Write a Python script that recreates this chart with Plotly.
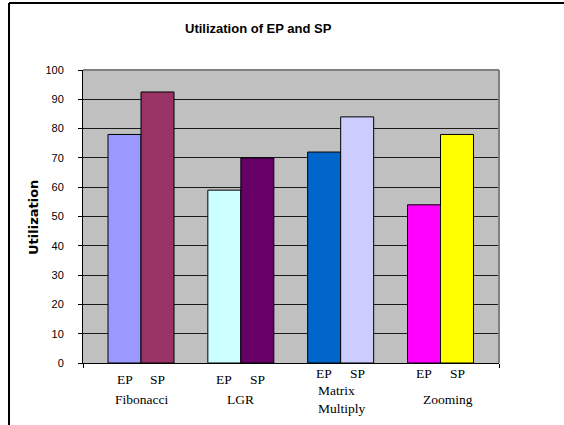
import plotly.graph_objects as go

# Benchmarks and utilization (%) of the EP and SP units
categories = ["Fibonacci", "LGR", "Matrix Multiply", "Zooming"]
category_labels = ["Fibonacci", "LGR", "Matrix<br>Multiply", "Zooming"]
ep_values = [78, 59, 72, 54]
sp_values = [92.5, 70, 84, 78]
ep_colors = ["#9999FF", "#CCFFFF", "#0066CC", "#FF00FF"]
sp_colors = ["#993366", "#660066", "#CCCCFF", "#FFFF00"]
y_ticks = [0, 10, 20, 30, 40, 50, 60, 70, 80, 90, 100]

W, H = 564, 425
L, R, T, B = 83, 65, 70, 62
plot_w = W - L - R
plot_h = H - T - B

x_lo, x_hi = -0.581, 3.586
unit_px = plot_w / (x_hi - x_lo)

fig = go.Figure()
fig.add_trace(go.Bar(x=categories, y=ep_values, name="EP",
                     marker=dict(color=ep_colors, line=dict(color="#000000", width=1))))
fig.add_trace(go.Bar(x=categories, y=sp_values, name="SP",
                     marker=dict(color=sp_colors, line=dict(color="#000000", width=1))))

serif = "Liberation Serif, Times New Roman, serif"
narrow = "Liberation Sans Narrow, Arial Narrow, Liberation Sans, Arial, sans-serif"


def py(pix):
    # pixel row -> paper y
    return (H - B - pix) / plot_h


annotations = []
ep_rows = [379, 379, 374, 374]
name_rows = [399, 399, 400, 399]
name_shift = [0, 0, 1, 7]
bar_off = 16.5
for i, cat in enumerate(categories):
    annotations.append(dict(x=cat, y=py(ep_rows[i]), xref="x", yref="paper", text="EP",
                            xshift=-bar_off, showarrow=False, yanchor="middle",
                            xanchor="center",
                            font=dict(family=serif, size=13.5, color="#000000")))
    annotations.append(dict(x=cat, y=py(ep_rows[i]), xref="x", yref="paper", text="SP",
                            xshift=bar_off, showarrow=False, yanchor="middle",
                            xanchor="center",
                            font=dict(family=serif, size=13.5, color="#000000")))
    annotations.append(dict(x=cat, y=py(name_rows[i]), xref="x", yref="paper",
                            text=category_labels[i], xshift=name_shift[i], align="left",
                            showarrow=False, yanchor="middle", xanchor="center",
                            font=dict(family=serif, size=13.5, color="#000000")))

# Axis title
annotations.append(dict(x=(33 - L) / plot_w, y=py(218), xref="paper", yref="paper",
                        text="<b>Utilization</b>", textangle=-90, showarrow=False,
                        xanchor="center", yanchor="middle",
                        font=dict(family="DejaVu Sans, Verdana, sans-serif", size=13,
                                  color="#000000")))
# Chart title
annotations.append(dict(x=(258 - L) / plot_w, y=py(29), xref="paper", yref="paper",
                        text="<b>Utilization of EP and SP</b>", showarrow=False,
                        xanchor="center", yanchor="middle",
                        font=dict(family=narrow, size=13, color="#000000")))

shapes = [
    # top and right edges of the plot area
    dict(type="line", xref="paper", yref="paper", x0=0, x1=1, y0=1, y1=1,
         line=dict(color="#808080", width=2), layer="above"),
    dict(type="line", xref="paper", yref="paper", x0=1, x1=1, y0=0, y1=1,
         line=dict(color="#808080", width=2), layer="above"),
    # outer chart frame
    dict(type="line", xref="paper", yref="paper", x0=(9 - L) / plot_w, x1=(9 - L) / plot_w,
         y0=py(3), y1=py(440), line=dict(color="#000000", width=2)),
    dict(type="line", xref="paper", yref="paper", x0=(9 - L) / plot_w, x1=(580 - L) / plot_w,
         y0=py(3), y1=py(3), line=dict(color="#000000", width=2)),
]

fig.update_layout(
    width=W, height=H,
    margin=dict(l=L, r=R, t=T, b=B, pad=0),
    paper_bgcolor="#FFFFFF",
    plot_bgcolor="#C0C0C0",
    barmode="group",
    bargap=1 - 66 / unit_px,
    bargroupgap=0,
    showlegend=False,
    annotations=annotations,
    shapes=shapes,
    xaxis=dict(
        type="category",
        range=[x_lo, x_hi],
        showgrid=False,
        showline=True, linecolor="#000000", linewidth=1,
        ticks="outside", ticklen=4, tickcolor="#000000",
        tickvals=[x_lo, x_hi], ticktext=["", ""],
        showticklabels=False,
        zeroline=False,
    ),
    yaxis=dict(
        range=[0, 100],
        tickvals=y_ticks,
        showgrid=True, gridcolor="#1a1a1a", gridwidth=1,
        showline=True, linecolor="#000000", linewidth=1,
        ticks="outside", ticklen=4, tickcolor="#000000",
        ticklabelstandoff=12,
        tickfont=dict(family=narrow, size=11, color="#000000"),
        zeroline=False,
    ),
)

fig.write_html("out.html")
